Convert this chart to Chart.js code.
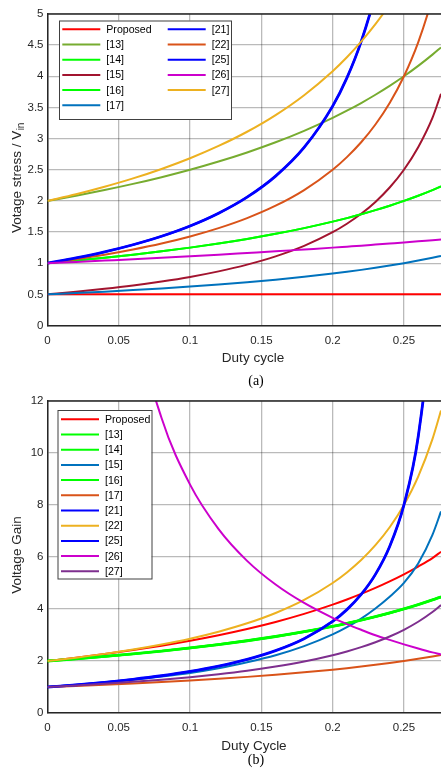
<!DOCTYPE html>
<html>
<head>
<meta charset="utf-8">
<script src="https://cdn.jsdelivr.net/npm/chart.js@4/dist/chart.umd.min.js"></script>
<style>
  body { margin: 0; background: #fff; width: 441px; height: 777px; overflow: hidden; position: relative; }
  canvas { position: absolute; left: 0; }
  #stressChart { top: 0; }
  #gainChart { top: 390px; }
</style>
</head>
<body>
<canvas id="stressChart" width="441" height="390"></canvas>
<canvas id="gainChart" width="441" height="387"></canvas>
<script>
// duty cycle sample points shared by every curve
const duty = [0, 0.02, 0.04, 0.06, 0.08, 0.1, 0.12, 0.14, 0.16, 0.18, 0.2, 0.21, 0.22, 0.23, 0.24, 0.25, 0.26, 0.27, 0.276];

// (a) voltage stress / Vin
const stressProposed = [0.5, 0.5, 0.5, 0.5, 0.5, 0.5, 0.5, 0.5, 0.5, 0.5, 0.5, 0.5, 0.5, 0.5, 0.5, 0.5, 0.5, 0.5, 0.5];
const stress13 = [2, 2.083, 2.174, 2.273, 2.381, 2.5, 2.632, 2.778, 2.941, 3.125, 3.333, 3.448, 3.571, 3.704, 3.846, 4.0, 4.167, 4.348, 4.464];
const stress14 = [1, 1.042, 1.087, 1.136, 1.19, 1.25, 1.316, 1.389, 1.471, 1.563, 1.667, 1.724, 1.786, 1.852, 1.923, 2.0, 2.083, 2.174, 2.232];
const stress15 = [0.5, 0.541, 0.588, 0.642, 0.706, 0.78, 0.869, 0.977, 1.11, 1.278, 1.497, 1.633, 1.793, 1.984, 2.215, 2.5, 2.861, 3.332, 3.72];
const stress16 = [1, 1.042, 1.087, 1.136, 1.19, 1.25, 1.316, 1.389, 1.471, 1.563, 1.667, 1.724, 1.786, 1.852, 1.923, 2.0, 2.083, 2.174, 2.232];
const stress17 = [0.5, 0.521, 0.543, 0.568, 0.595, 0.625, 0.658, 0.694, 0.735, 0.781, 0.833, 0.862, 0.893, 0.926, 0.962, 1.0, 1.042, 1.087, 1.116];
const stress21 = [1, 1.084, 1.181, 1.296, 1.432, 1.597, 1.802, 2.06, 2.398, 2.858, 3.521, 3.975, 4.557, 5.329, 6.404, 8.0, 10.62, 15.71, 22];
const stress22 = [1, 1.064, 1.136, 1.22, 1.316, 1.429, 1.563, 1.724, 1.923, 2.174, 2.5, 2.703, 2.941, 3.226, 3.571, 4.0, 4.545, 5.263, 5.814];
const stress25 = [1, 1.084, 1.181, 1.296, 1.432, 1.597, 1.802, 2.06, 2.398, 2.858, 3.521, 3.975, 4.557, 5.329, 6.404, 8.0, 10.62, 15.71, 22];
const stress26 = [1, 1.02, 1.042, 1.064, 1.087, 1.111, 1.136, 1.163, 1.19, 1.22, 1.25, 1.266, 1.282, 1.299, 1.316, 1.333, 1.351, 1.37, 1.381];
const stress27 = [2, 2.107, 2.227, 2.361, 2.513, 2.685, 2.882, 3.11, 3.378, 3.697, 4.082, 4.306, 4.556, 4.837, 5.155, 5.517, 5.935, 6.421, 6.752];

// (b) voltage gain
const gainProposed = [2, 2.126, 2.264, 2.418, 2.588, 2.778, 2.99, 3.23, 3.501, 3.811, 4.167, 4.365, 4.579, 4.81, 5.061, 5.333, 5.631, 5.956, 6.2];
const gain13 = [2, 2.083, 2.174, 2.273, 2.381, 2.5, 2.632, 2.778, 2.941, 3.125, 3.333, 3.448, 3.571, 3.704, 3.846, 4.0, 4.167, 4.348, 4.464];
const gain14 = [2, 2.083, 2.174, 2.273, 2.381, 2.5, 2.632, 2.778, 2.941, 3.125, 3.333, 3.448, 3.571, 3.704, 3.846, 4.0, 4.167, 4.348, 4.464];
const gain15 = [1, 1.08, 1.17, 1.28, 1.4, 1.54, 1.72, 1.95, 2.22, 2.57, 3.02, 3.3, 3.63, 4.02, 4.47, 5.0, 5.75, 6.85, 7.75];
const gain16 = [2, 2.083, 2.174, 2.273, 2.381, 2.5, 2.632, 2.778, 2.941, 3.125, 3.333, 3.448, 3.571, 3.704, 3.846, 4.0, 4.167, 4.348, 4.464];
const gain17 = [1, 1.042, 1.087, 1.136, 1.19, 1.25, 1.316, 1.389, 1.471, 1.563, 1.667, 1.724, 1.786, 1.852, 1.923, 2.0, 2.083, 2.174, 2.232];
const gain21 = [1, 1.084, 1.181, 1.296, 1.432, 1.597, 1.802, 2.06, 2.398, 2.858, 3.521, 3.975, 4.557, 5.329, 6.404, 8.0, 10.62, 15.71, 22];
const gain22 = [2, 2.128, 2.273, 2.439, 2.632, 2.857, 3.125, 3.448, 3.846, 4.348, 5.0, 5.405, 5.882, 6.452, 7.143, 8.0, 9.091, 10.53, 11.63];
const gain25 = [1, 1.084, 1.181, 1.296, 1.432, 1.597, 1.802, 2.06, 2.398, 2.858, 3.521, 3.975, 4.557, 5.329, 6.404, 8.0, 10.62, 15.71, 22];
const gain26 = [null, null, 24.1, 15.6, 11.34, 8.78, 7.07, 5.85, 4.94, 4.23, 3.66, 3.42, 3.2, 2.99, 2.81, 2.64, 2.48, 2.33, 2.25];
const gain27 = [1, 1.058, 1.124, 1.198, 1.282, 1.379, 1.493, 1.626, 1.786, 1.98, 2.222, 2.367, 2.532, 2.721, 2.941, 3.2, 3.509, 3.883, 4.149];

const seriesLabels = ["Proposed", "[13]", "[14]", "[15]", "[16]", "[17]", "[21]", "[22]", "[25]", "[26]", "[27]"];
const stressColors = ["#ff0000", "#77ac30", "#00ff00", "#a2142f", "#00ff00", "#0072bd", "#0000ff", "#d95319", "#0000ff", "#cc00cc", "#edb120"];
const gainColors = ["#ff0000", "#00ff00", "#00ff00", "#0072bd", "#00ff00", "#d95319", "#0000ff", "#edb120", "#0000ff", "#cc00cc", "#7e2f8e"];

const FONT = "'Liberation Sans', Arial, sans-serif";
Chart.defaults.font.family = FONT;
Chart.defaults.font.size = 11.5;
Chart.defaults.color = "#262626";

function toPoints(values) {
  return duty.map((d, i) => ({ x: d, y: values[i] }));
}

function buildDatasets(seriesValues, colors, widths) {
  return seriesValues.map((vals, i) => ({
    label: seriesLabels[i],
    data: toPoints(vals),
    borderColor: colors[i],
    backgroundColor: colors[i],
    borderWidth: widths[i],
    pointRadius: 0,
    cubicInterpolationMode: "monotone",
    order: seriesValues.length - i   // later series drawn on top, like matlab
  }));
}

// legend, axis titles and caption are drawn here
function figurePlugin(spec) {
  return {
    id: "figure",
    afterDatasetsDraw(chart) {
      const ctx = chart.ctx;
      const a = chart.chartArea;
      ctx.save();
      ctx.strokeStyle = "#262626";
      ctx.lineWidth = 1.5;
      ctx.beginPath();
      ctx.moveTo(a.left, a.top);
      ctx.lineTo(a.right, a.top);
      ctx.stroke();

      const lg = spec.legend;
      ctx.fillStyle = "#fff";
      ctx.fillRect(lg.x, lg.y, lg.w, lg.h);
      ctx.strokeStyle = "#404040";
      ctx.lineWidth = 1;
      ctx.strokeRect(lg.x + 0.5, lg.y + 0.5, lg.w, lg.h);
      ctx.font = "10.6px " + FONT;
      ctx.textBaseline = "middle";
      ctx.textAlign = "left";
      seriesLabels.forEach((lab, i) => {
        const col = Math.floor(i / lg.perCol);
        const row = i % lg.perCol;
        const x0 = lg.colX[col];
        const y = lg.firstRow + row * lg.gap;
        ctx.strokeStyle = spec.colors[i];
        ctx.lineWidth = 2;
        ctx.beginPath();
        ctx.moveTo(x0, y);
        ctx.lineTo(x0 + 38, y);
        ctx.stroke();
        ctx.fillStyle = "#000";
        ctx.fillText(lab, x0 + 44, y + 0.5);
      });
      ctx.restore();
    },
    afterDraw(chart) {
      const ctx = chart.ctx;
      ctx.save();
      ctx.fillStyle = "#262626";
      ctx.textBaseline = "middle";

      // y title, rotated, with optional subscript
      ctx.font = "13.5px " + FONT;
      const w1 = ctx.measureText(spec.yTitle).width;
      let w2 = 0;
      if (spec.ySub) {
        ctx.font = "10px " + FONT;
        w2 = ctx.measureText(spec.ySub).width;
      }
      ctx.translate(spec.yTitleX, spec.yTitleY);
      ctx.rotate(-Math.PI / 2);
      ctx.textAlign = "left";
      ctx.font = "13.5px " + FONT;
      ctx.fillText(spec.yTitle, -(w1 + w2) / 2, 0);
      if (spec.ySub) {
        ctx.font = "10px " + FONT;
        ctx.fillText(spec.ySub, -(w1 + w2) / 2 + w1 + 0.5, 4);
      }
      ctx.setTransform(1, 0, 0, 1, 0, 0);

      ctx.textAlign = "center";
      ctx.font = "13.5px " + FONT;
      ctx.fillText(spec.xTitle, spec.xTitleX, spec.xTitleY);
      ctx.fillStyle = "#000";
      ctx.font = "14px 'Liberation Serif', 'Times New Roman', serif";
      ctx.fillText(spec.caption, spec.captionX, spec.captionY);
      ctx.restore();
    }
  };
}

function makeChart(canvasId, datasets, yMax, yStep, xAxisHeight, topPad, spec) {
  return new Chart(document.getElementById(canvasId), {
    type: "line",
    data: { datasets },
    options: {
      responsive: false,
      animation: false,
      events: [],
      layout: { padding: { top: topPad, right: 0, left: 0, bottom: 0 } },
      plugins: { legend: { display: false }, tooltip: { enabled: false } },
      scales: {
        x: {
          type: "linear",
          min: 0,
          max: 0.276,
          ticks: {
            stepSize: 0.05,
            includeBounds: false,
            padding: 8,
            maxRotation: 0,
            callback: v => String(parseFloat(v.toFixed(2)))
          },
          grid: { color: "rgba(0,0,0,0.27)", lineWidth: 1.3, drawTicks: false },
          border: { color: "#262626", width: 1.5 },
          afterFit: s => { s.height = xAxisHeight; }
        },
        y: {
          min: 0,
          max: yMax,
          ticks: {
            stepSize: yStep,
            padding: 4,
            callback: v => String(parseFloat(v.toFixed(2)))
          },
          grid: { color: "rgba(0,0,0,0.27)", lineWidth: 1.3, drawTicks: false },
          border: { color: "#262626", width: 1.5 },
          afterFit: s => { s.width = 47.5; }
        }
      }
    },
    plugins: [figurePlugin(spec)]
  });
}

const stressWidths = [2, 2, 2, 2, 2, 2, 2, 2, 2.8, 2, 2];
const gainWidths = [2, 2, 2.4, 2, 2.8, 2, 2, 2, 2.8, 2, 2];

makeChart("stressChart",
  buildDatasets([stressProposed, stress13, stress14, stress15, stress16, stress17, stress21, stress22, stress25, stress26, stress27], stressColors, stressWidths),
  5, 0.5, 64.5, 14,
  {
    colors: stressColors,
    legend: { x: 59, y: 20.5, w: 172, h: 98.5, perCol: 6, colX: [62.3, 167.7], firstRow: 29.3, gap: 15.2 },
    yTitle: "Votage stress / V", ySub: "in", yTitleX: 17, yTitleY: 178,
    xTitle: "Duty cycle", xTitleX: 253, xTitleY: 358,
    caption: "(a)", captionX: 256, captionY: 381.5
  });

makeChart("gainChart",
  buildDatasets([gainProposed, gain13, gain14, gain15, gain16, gain17, gain21, gain22, gain25, gain26, gain27], gainColors, gainWidths),
  12, 2, 64, 10,
  {
    colors: gainColors,
    legend: { x: 57.5, y: 20, w: 94, h: 168.5, perCol: 11, colX: [61], firstRow: 29.3, gap: 15.2 },
    yTitle: "Voltage Gain", ySub: "", yTitleX: 17, yTitleY: 165,
    xTitle: "Duty Cycle", xTitleX: 254, xTitleY: 356,
    caption: "(b)", captionX: 256, captionY: 370
  });
</script>
</body>
</html>
